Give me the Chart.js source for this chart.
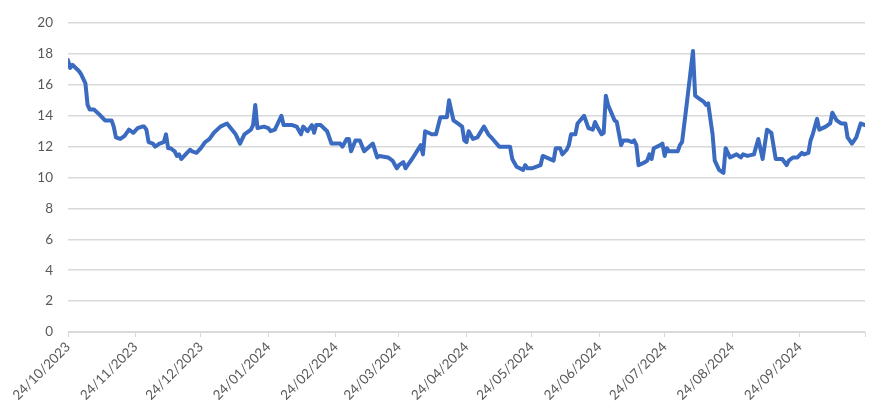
<!DOCTYPE html>
<html>
<head>
<meta charset="utf-8">
<script src="https://cdn.jsdelivr.net/npm/chart.js@4"></script>
<style>
  html, body { margin: 0; padding: 0; background: #fff; }
  #wrap { width: 884px; height: 419px; }
</style>
</head>
<body>
<div id="wrap"><canvas id="lineChart" width="884" height="419"></canvas></div>
<script>
const startDate = "2023-10-24";
const endDate = "2024-10-24";

const dates = [
  "2023-10-24", "2023-10-25", "2023-10-26", "2023-10-29", "2023-10-30", "2023-11-01", "2023-11-02", "2023-11-03",
  "2023-11-05", "2023-11-08", "2023-11-10", "2023-11-13", "2023-11-14", "2023-11-15", "2023-11-17", "2023-11-19",
  "2023-11-21", "2023-11-23", "2023-11-25", "2023-11-27", "2023-11-28", "2023-11-29", "2023-11-30", "2023-12-02",
  "2023-12-03", "2023-12-05", "2023-12-07", "2023-12-08", "2023-12-09", "2023-12-10", "2023-12-12", "2023-12-13",
  "2023-12-14", "2023-12-15", "2023-12-17", "2023-12-19", "2023-12-20", "2023-12-22", "2023-12-24", "2023-12-26",
  "2023-12-28", "2023-12-30", "2024-01-02", "2024-01-05", "2024-01-09", "2024-01-11", "2024-01-13", "2024-01-16",
  "2024-01-17", "2024-01-18", "2024-01-19", "2024-01-22", "2024-01-24", "2024-01-25", "2024-01-27", "2024-01-30",
  "2024-01-31", "2024-02-04", "2024-02-06", "2024-02-08", "2024-02-09", "2024-02-11", "2024-02-13", "2024-02-14",
  "2024-02-15", "2024-02-17", "2024-02-20", "2024-02-22", "2024-02-24", "2024-02-26", "2024-02-27", "2024-02-29",
  "2024-03-01", "2024-03-02", "2024-03-04", "2024-03-06", "2024-03-08", "2024-03-12", "2024-03-14", "2024-03-15",
  "2024-03-19", "2024-03-21", "2024-03-23", "2024-03-24", "2024-03-26", "2024-03-27", "2024-03-28", "2024-03-30",
  "2024-04-03", "2024-04-04", "2024-04-05", "2024-04-08", "2024-04-10", "2024-04-12", "2024-04-15", "2024-04-16",
  "2024-04-18", "2024-04-20", "2024-04-22", "2024-04-23", "2024-04-24", "2024-04-25", "2024-04-27", "2024-04-29",
  "2024-05-02", "2024-05-04", "2024-05-06", "2024-05-09", "2024-05-14", "2024-05-15", "2024-05-17", "2024-05-20",
  "2024-05-21", "2024-05-22", "2024-05-24", "2024-05-28", "2024-05-29", "2024-06-03", "2024-06-04", "2024-06-06",
  "2024-06-07", "2024-06-09", "2024-06-10", "2024-06-11", "2024-06-13", "2024-06-14", "2024-06-17", "2024-06-19",
  "2024-06-21", "2024-06-22", "2024-06-23", "2024-06-25", "2024-06-26", "2024-06-27", "2024-06-28", "2024-07-01",
  "2024-07-02", "2024-07-04", "2024-07-05", "2024-07-07", "2024-07-09", "2024-07-10", "2024-07-11", "2024-07-12",
  "2024-07-15", "2024-07-16", "2024-07-17", "2024-07-18", "2024-07-19", "2024-07-22", "2024-07-23", "2024-07-24",
  "2024-07-25", "2024-07-26", "2024-07-30", "2024-07-31", "2024-08-01", "2024-08-03", "2024-08-06", "2024-08-07",
  "2024-08-09", "2024-08-11", "2024-08-12", "2024-08-13", "2024-08-15", "2024-08-16", "2024-08-18", "2024-08-20",
  "2024-08-21", "2024-08-23", "2024-08-26", "2024-08-27", "2024-08-28", "2024-08-29", "2024-08-31", "2024-09-03",
  "2024-09-05", "2024-09-07", "2024-09-09", "2024-09-11", "2024-09-13", "2024-09-16", "2024-09-18", "2024-09-19",
  "2024-09-21", "2024-09-23", "2024-09-25", "2024-09-26", "2024-09-28", "2024-09-29", "2024-09-30", "2024-10-02",
  "2024-10-03", "2024-10-06", "2024-10-08", "2024-10-09", "2024-10-11", "2024-10-13", "2024-10-15", "2024-10-16",
  "2024-10-18", "2024-10-20", "2024-10-22", "2024-10-24"
];

const values = [
  17.6, 17.1, 17.3, 16.9, 16.7, 16.1, 14.7, 14.4,
  14.4, 14.0, 13.7, 13.7, 13.3, 12.6, 12.5, 12.7,
  13.1, 12.9, 13.2, 13.3, 13.3, 13.1, 12.3, 12.2,
  12.0, 12.2, 12.3, 12.8, 11.9, 11.9, 11.7, 11.4,
  11.5, 11.2, 11.5, 11.8, 11.7, 11.6, 11.9, 12.3,
  12.5, 12.9, 13.3, 13.5, 12.8, 12.2, 12.8, 13.1,
  13.4, 14.7, 13.2, 13.3, 13.2, 13.0, 13.1, 14.0,
  13.4, 13.4, 13.3, 12.8, 13.3, 13.0, 13.4, 12.9,
  13.4, 13.4, 13.0, 12.2, 12.2, 12.2, 12.0, 12.5,
  12.5, 11.7, 12.4, 12.4, 11.7, 12.2, 11.3, 11.4,
  11.3, 11.1, 10.6, 10.8, 11.0, 10.6, 10.8, 11.2,
  12.1, 11.5, 13.0, 12.8, 12.8, 13.9, 13.9, 15.0,
  13.7, 13.5, 13.3, 12.4, 12.3, 13.0, 12.5, 12.6,
  13.3, 12.8, 12.5, 12.0, 12.0, 11.2, 10.7, 10.5,
  10.8, 10.6, 10.6, 10.8, 11.4, 11.1, 11.9, 11.9,
  11.5, 11.8, 12.1, 12.8, 12.8, 13.5, 14.0, 13.2,
  13.1, 13.6, 13.3, 12.8, 12.9, 15.3, 14.7, 13.7,
  13.6, 12.1, 12.4, 12.4, 12.3, 12.4, 12.1, 10.8,
  11.0, 11.1, 11.5, 11.2, 11.9, 12.1, 12.2, 11.4,
  11.9, 11.7, 11.7, 12.1, 12.3, 14.6, 18.2, 15.3,
  15.1, 14.9, 14.7, 14.8, 12.8, 11.1, 10.5, 10.3,
  11.9, 11.3, 11.5, 11.4, 11.3, 11.5, 11.4, 11.5,
  12.5, 11.2, 13.1, 12.9, 11.2, 11.2, 10.8, 11.1,
  11.3, 11.3, 11.6, 11.5, 11.6, 12.4, 12.8, 13.8,
  13.1, 13.3, 13.5, 14.2, 13.7, 13.5, 13.5, 12.6,
  12.2, 12.6, 13.5, 13.4
];

// monthly tick labels on the x axis
const tickDates = [
  "2023-10-24", "2023-11-24", "2023-12-24", "2024-01-24", "2024-02-24", "2024-03-24",
  "2024-04-24", "2024-05-24", "2024-06-24", "2024-07-24", "2024-08-24", "2024-09-24"
];

const yTicks = [0, 2, 4, 6, 8, 10, 12, 14, 16, 18, 20];

const DAY = 86400000;
const t0 = Date.parse(startDate);
const dayOf = (d) => (Date.parse(d) - t0) / DAY;
const lastDay = dayOf(endDate);

function fmt(day) {
  const d = new Date(t0 + Math.round(day) * DAY);
  const dd = String(d.getUTCDate()).padStart(2, "0");
  const mm = String(d.getUTCMonth() + 1).padStart(2, "0");
  return dd + "/" + mm + "/" + d.getUTCFullYear();
}

const labelDays = tickDates.map(dayOf);
const points = dates.map((d, i) => ({ x: dayOf(d), y: values[i] }));

const ctx = document.getElementById("lineChart");

new Chart(ctx, {
  type: "line",
  data: {
    datasets: [
      {
        label: "Series 1",
        data: points,
        borderColor: "#3A6BC1",
        borderWidth: 4,
        pointRadius: 0,
        tension: 0,
        borderJoinStyle: "round",
        borderCapStyle: "round",
        fill: false,
      },
    ],
  },
  options: {
    responsive: false,
    animation: false,
    layout: { padding: { top: 20, right: 19, left: 0, bottom: 0 } },
    plugins: {
      legend: { display: false },
      tooltip: { enabled: false },
    },
    scales: {
      x: {
        type: "linear",
        min: 0,
        max: lastDay,
        afterBuildTicks: (scale) => {
          scale.ticks = labelDays.concat([lastDay]).map((v) => ({ value: v }));
        },
        afterFit: (scale) => {
          scale.height = 87;
        },
        ticks: {
          autoSkip: false,
          maxRotation: 45,
          minRotation: 45,
          color: "#595959",
          font: { family: "Lato", size: 13.5 },
          padding: 2,
          callback: (v) => (labelDays.includes(v) ? fmt(v) : ""),
        },
        grid: {
          drawOnChartArea: false,
          drawTicks: true,
          tickLength: 5,
          color: "#D9D9D9",
        },
        border: { color: "#D9D9D9", width: 1 },
      },
      y: {
        min: 0,
        max: 20,
        afterBuildTicks: (scale) => {
          scale.ticks = yTicks.map((v) => ({ value: v }));
        },
        afterFit: (scale) => {
          scale.width = 68;
        },
        ticks: {
          color: "#595959",
          font: { family: "Lato", size: 13.5 },
          padding: 15,
        },
        grid: {
          color: "#D9D9D9",
          lineWidth: 1.5,
          drawTicks: false,
        },
        border: { display: false },
      },
    },
  },
});
</script>
</body>
</html>
